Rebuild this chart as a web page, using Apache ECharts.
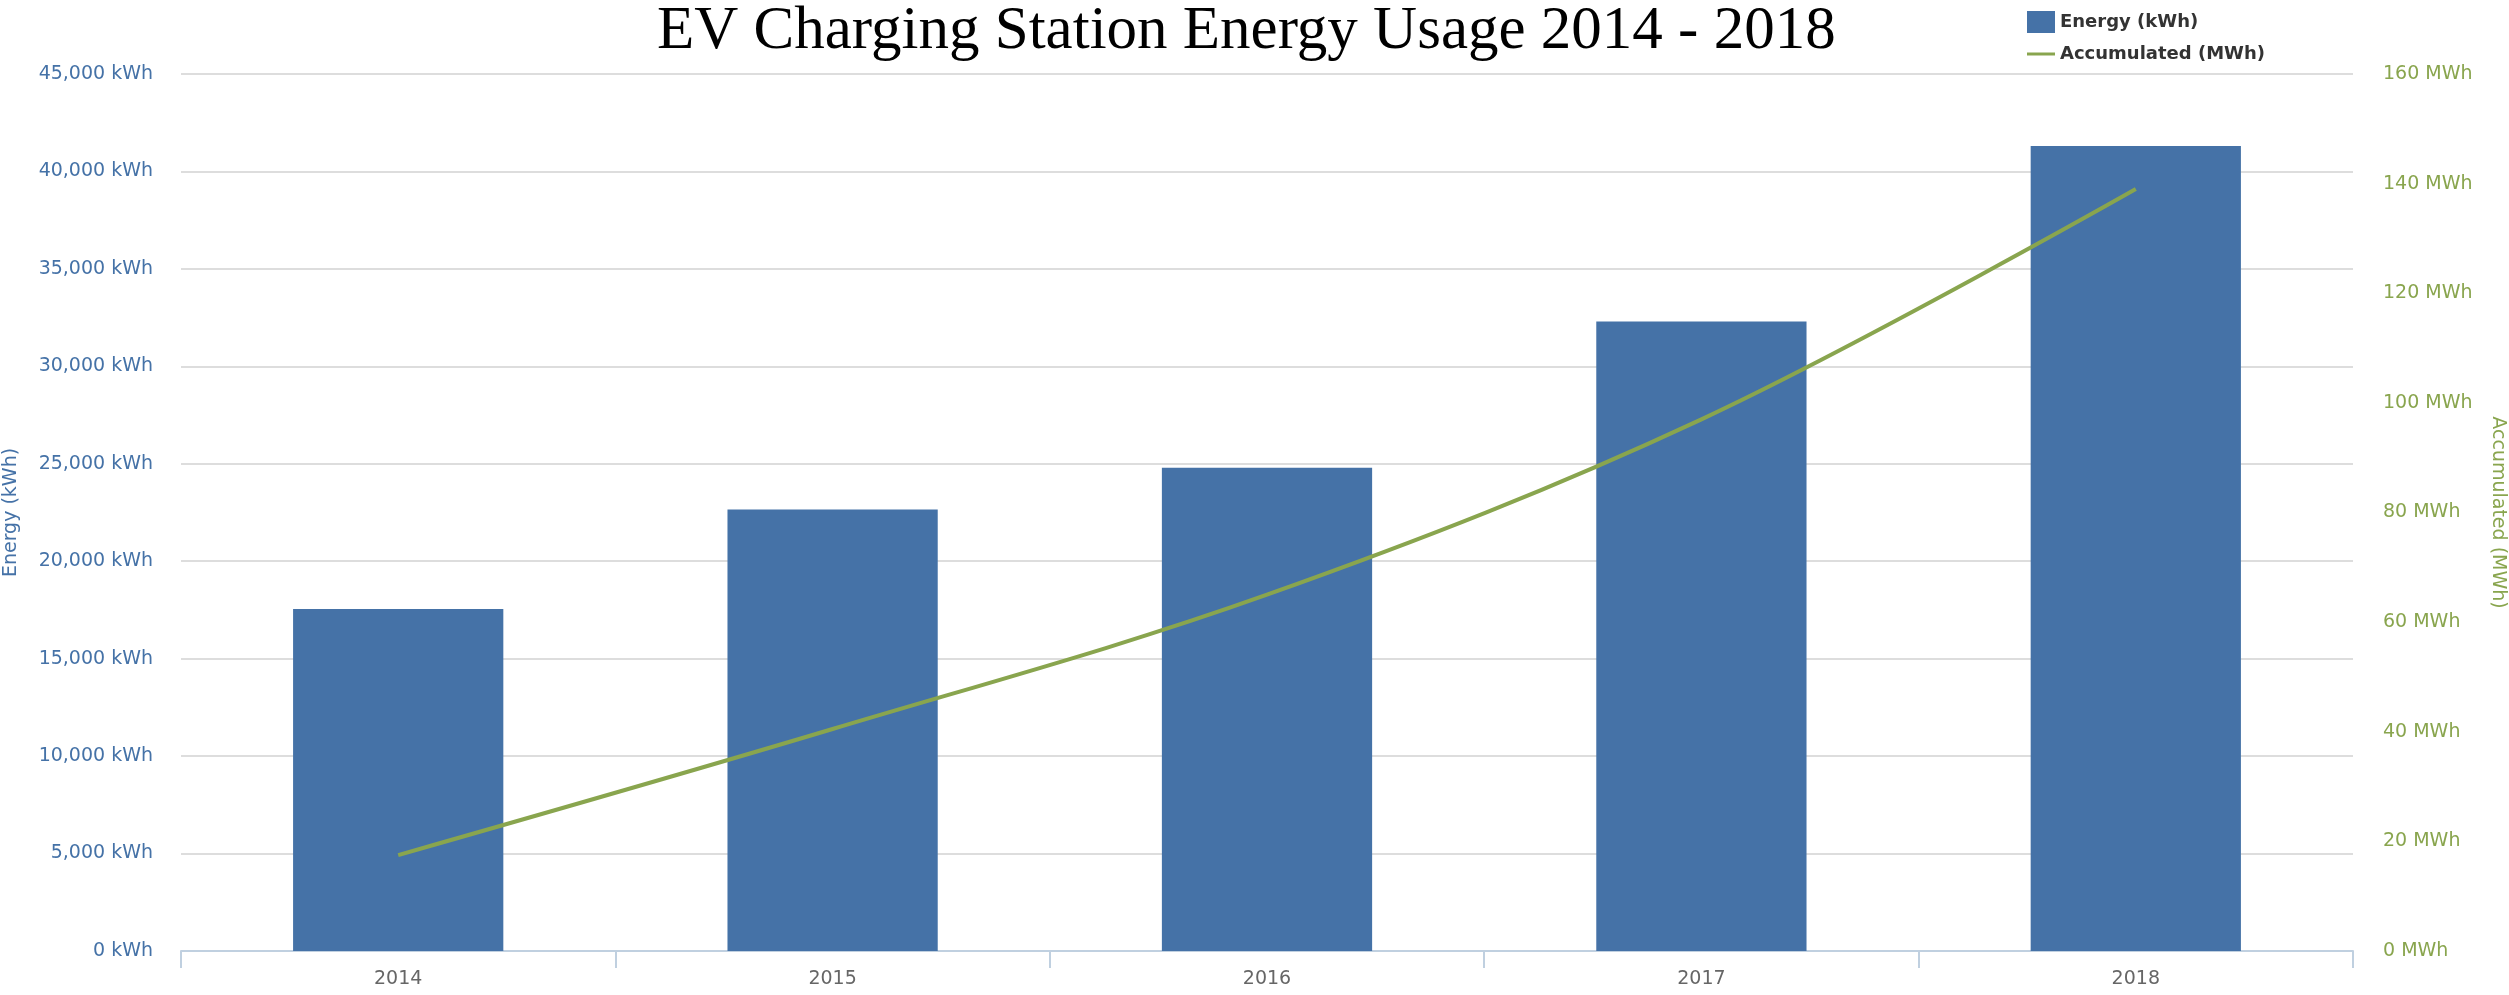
<!DOCTYPE html>
<html>
<head>
<meta charset="utf-8">
<title>EV Charging Station Energy Usage</title>
<script src="https://cdn.jsdelivr.net/npm/echarts@6/dist/echarts.min.js"></script>
<style>
  html, body { margin: 0; padding: 0; background: #fff; }
  #chart { width: 2509px; height: 995px; }
</style>
</head>
<body>
<div id="chart"></div>
<script>
// data
var years = ['2014', '2015', '2016', '2017', '2018']
var energyKwh = [17550, 22650, 24800, 32300, 41300]
var accumulatedMwh = [17.5, 40.5, 65.0, 97.0, 139.0]

var blue = '#4572A7'
var green = '#89A54E'
var labelFont = 'DejaVu Sans, Verdana, sans-serif'

var chart = echarts.init(document.getElementById('chart'))

var option = {
  backgroundColor: '#ffffff',
  animation: false,
  title: {
    text: 'EV Charging Station Energy Usage 2014 - 2018',
    left: 652,
    top: -4,
    textStyle: {
      fontFamily: 'Liberation Serif, serif',
      fontWeight: 'normal',
      fontSize: 61,
      color: '#000'
    }
  },
  legend: {
    orient: 'vertical',
    left: 2022,
    top: 6,
    itemWidth: 28,
    itemHeight: 22,
    itemGap: 12,
    textStyle: {
      fontFamily: labelFont,
      fontWeight: 'bold',
      fontSize: 18,
      color: '#333'
    },
    data: [
      { name: 'Energy (kWh)', icon: 'rect' },
      { name: 'Accumulated (MWh)', icon: 'path://M0,0 H28 V3 H0 Z' }
    ]
  },
  grid: {
    left: 181,
    right: 156,
    top: 74,
    bottom: 44,
    containLabel: false,
    outerBoundsMode: 'none'
  },
  xAxis: {
    type: 'category',
    data: years,
    boundaryGap: true,
    axisLine: { lineStyle: { color: '#C0D0E0', width: 2 } },
    axisTick: { show: true, length: 17, lineStyle: { color: '#C0D0E0', width: 2 } },
    axisLabel: {
      color: '#666',
      fontFamily: labelFont,
      fontSize: 19,
      margin: 19
    }
  },
  yAxis: [
    {
      type: 'value',
      min: 0,
      max: 45000,
      interval: 5000,
      name: 'Energy (kWh)',
      nameLocation: 'middle',
      nameGap: 160,
      nameTextStyle: { color: blue, fontFamily: labelFont, fontSize: 19 },
      axisLine: { show: false },
      axisTick: { show: false },
      axisLabel: {
        color: blue,
        fontFamily: labelFont,
        fontSize: 19,
        margin: 28,
        formatter: function (v) {
          return v.toLocaleString('en-US') + ' kWh'
        }
      },
      splitLine: { lineStyle: { color: '#DDDDDD', width: 2 } }
    },
    {
      type: 'value',
      min: 0,
      max: 160,
      interval: 20,
      position: 'right',
      name: 'Accumulated (MWh)',
      nameLocation: 'middle',
      nameRotate: -90,
      nameGap: 135,
      nameTextStyle: { color: green, fontFamily: labelFont, fontSize: 19 },
      axisLine: { show: false },
      axisTick: { show: false },
      axisLabel: {
        color: green,
        fontFamily: labelFont,
        fontSize: 19,
        margin: 30,
        formatter: function (v) {
          return v + ' MWh'
        }
      },
      splitLine: { show: false }
    }
  ],
  series: [
    {
      name: 'Energy (kWh)',
      type: 'bar',
      yAxisIndex: 0,
      barWidth: '48.4%',
      itemStyle: { color: blue },
      data: energyKwh
    },
    {
      name: 'Accumulated (MWh)',
      type: 'line',
      yAxisIndex: 1,
      smooth: 0.35,
      symbol: 'none',
      itemStyle: { color: green },
      lineStyle: { color: green, width: 4 },
      data: accumulatedMwh
    }
  ]
}

chart.setOption(option)
</script>
</body>
</html>
